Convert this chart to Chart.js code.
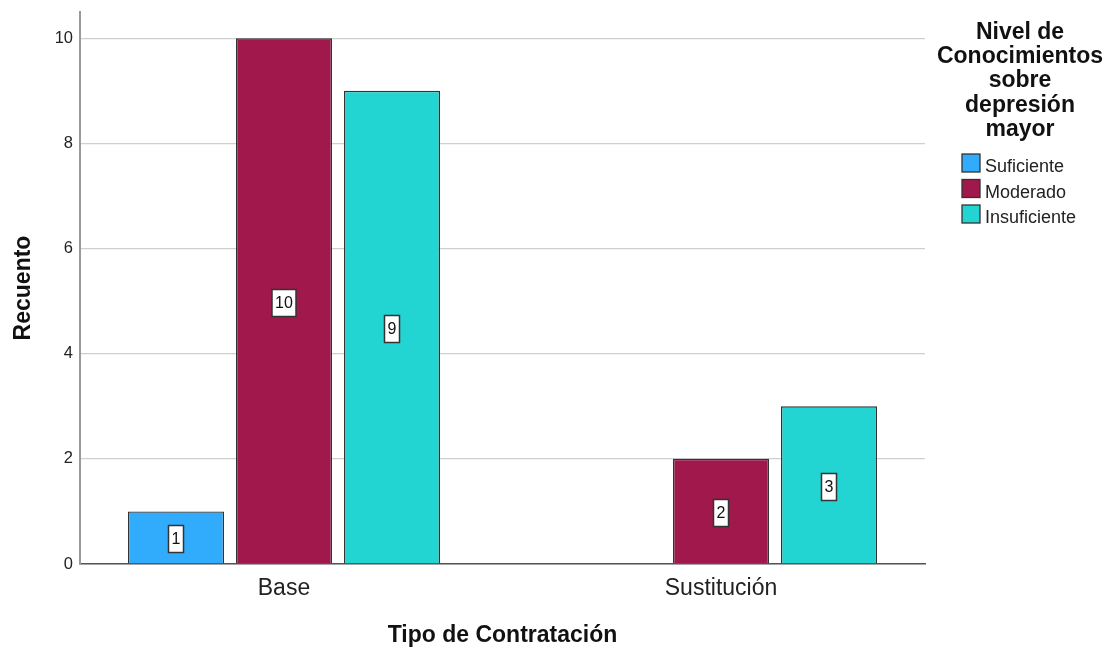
<!DOCTYPE html>
<html>
<head>
<meta charset="utf-8">
<script src="https://cdn.jsdelivr.net/npm/chart.js@4/dist/chart.umd.min.js"></script>
<style>
  html, body { margin: 0; padding: 0; background: #ffffff; }
  #wrap { width: 1110px; height: 648px; }
</style>
</head>
<body>
<div id="wrap"><canvas id="chart" width="1110" height="648"></canvas></div>
<script>
// Recuento por tipo de contratación y nivel de conocimientos
const categories = ['Base', 'Sustitución'];
const seriesNames = ['Suficiente', 'Moderado', 'Insuficiente'];
const suficiente = [1, null];
const moderado = [10, 2];
const insuficiente = [9, 3];
const yTicks = [0, 2, 4, 6, 8, 10];
const legendTitle = ['Nivel de', 'Conocimientos', 'sobre', 'depresión', 'mayor'];
const xTitle = 'Tipo de Contratación';
const yTitle = 'Recuento';

const FONT = '"Liberation Sans", Arial, Helvetica, sans-serif';
const seriesColors = ['#31acfd', '#a0184c', '#23d5d2'];
const seriesValues = [suficiente, moderado, insuficiente];

Chart.defaults.font.family = FONT;

const datasets = seriesNames.map((name, i) => ({
  label: name,
  data: seriesValues[i].map((v, j) => ({ x: j, y: v })),
  backgroundColor: seriesColors[i],
  borderColor: '#333333',
  borderWidth: 1.4,
  categoryPercentage: 0.7414,
  barPercentage: 0.889
}));

// White boxed count labels centred in each bar
const valueLabels = {
  id: 'valueLabels',
  afterDatasetsDraw(chart) {
    const ctx = chart.ctx;
    ctx.save();
    ctx.font = '16px ' + FONT;
    ctx.textAlign = 'center';
    ctx.textBaseline = 'middle';
    chart.data.datasets.forEach((ds, i) => {
      const meta = chart.getDatasetMeta(i);
      meta.data.forEach((bar, j) => {
        const v = ds.data[j].y;
        if (v === null || v === undefined) return;
        const txt = String(v);
        const cx = Math.round(bar.x);
        const cy = Math.round((bar.y + bar.base) / 2) + 2;
        const w = Math.round(ctx.measureText(txt).width) + 6;
        const h = 27;
        ctx.fillStyle = '#ffffff';
        ctx.fillRect(cx - w / 2, cy - h / 2, w, h);
        ctx.strokeStyle = '#333333';
        ctx.lineWidth = 1.5;
        ctx.strokeRect(cx - w / 2, cy - h / 2, w, h);
        ctx.fillStyle = '#111111';
        ctx.fillText(txt, cx, cy + 1);
      });
    });
    ctx.restore();
  }
};

// Legend block on the right: wrapped bold title and three swatches
const sideLegend = {
  id: 'sideLegend',
  afterDraw(chart) {
    const ctx = chart.ctx;
    ctx.save();
    ctx.fillStyle = '#111111';
    ctx.textAlign = 'center';
    ctx.textBaseline = 'alphabetic';
    ctx.font = 'bold 23px ' + FONT;
    legendTitle.forEach((line, k) => {
      ctx.fillText(line, 1020, 39 + k * 24.2);
    });
    ctx.textAlign = 'left';
    ctx.font = '18px ' + FONT;
    chart.data.datasets.forEach((ds, i) => {
      const y = 154 + i * 25.5;
      ctx.fillStyle = ds.backgroundColor;
      ctx.fillRect(962, y, 18, 18);
      ctx.strokeStyle = '#333333';
      ctx.lineWidth = 1.3;
      ctx.strokeRect(962, y, 18, 18);
      ctx.fillStyle = '#222222';
      ctx.fillText(ds.label, 985, y + 18);
    });
    ctx.restore();
  }
};

new Chart(document.getElementById('chart'), {
  type: 'bar',
  data: { datasets },
  options: {
    responsive: false,
    animation: false,
    devicePixelRatio: 1,
    layout: { padding: { top: 12, right: 185, bottom: 0, left: 0 } },
    plugins: {
      legend: { display: false },
      tooltip: { enabled: false },
      title: { display: false }
    },
    scales: {
      x: {
        type: 'linear',
        min: -0.4668,
        max: 1.4668,
        offset: false,
        bounds: 'data',
        grid: { display: false, drawTicks: false },
        border: { display: true, color: '#555555', width: 1.5 },
        afterBuildTicks: (s) => { s.ticks = categories.map((_, i) => ({ value: i })); },
        ticks: {
          callback: (v) => categories[v],
          autoSkip: false,
          maxRotation: 0,
          padding: 11,
          color: '#222222',
          font: { size: 23 }
        },
        title: {
          display: true,
          text: xTitle,
          color: '#111111',
          font: { size: 23, weight: 'bold' },
          padding: { top: 0, bottom: -1 }
        },
        afterFit: (s) => { s.height = 84; s.paddingLeft = 0; s.paddingRight = 0; }
      },
      y: {
        min: 0,
        max: 10.5,
        bounds: 'data',
        grid: { color: '#cfcfcf', lineWidth: 1.3, drawTicks: false },
        border: { display: true, color: '#9a9a9a', width: 2 },
        afterBuildTicks: (s) => { s.ticks = yTicks.map((v) => ({ value: v })); },
        ticks: {
          padding: 7,
          color: '#222222',
          font: { size: 16.5 }
        },
        title: {
          display: true,
          text: yTitle,
          color: '#111111',
          font: { size: 23, weight: 'bold' },
          padding: { top: 10, bottom: 0 }
        },
        afterFit: (s) => { s.width = 80; s.paddingTop = 0; s.paddingBottom = 0; }
      }
    }
  },
  plugins: [valueLabels, sideLegend]
});
</script>
</body>
</html>
